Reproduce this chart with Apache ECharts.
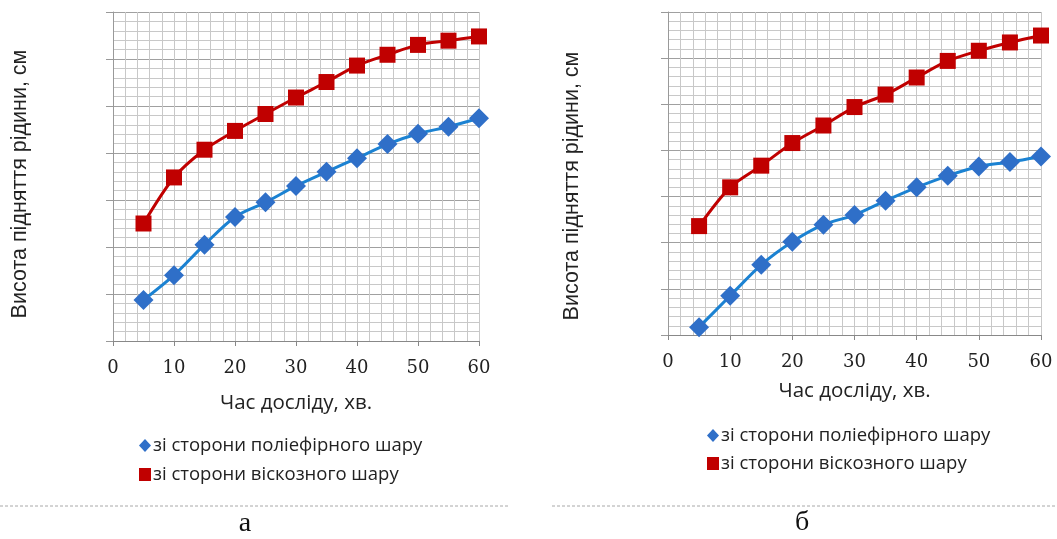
<!DOCTYPE html>
<html>
<head>
<meta charset="utf-8">
<script src="https://cdn.jsdelivr.net/npm/echarts@6/dist/echarts.min.js"></script>
<style>
  html, body { margin: 0; padding: 0; background: #fff; }
  #chart { width: 1057px; height: 539px; }
</style>
</head>
<body>
<div id="chart"></div>
<script>
// час досліду, хв.
var times = [5, 10, 15, 20, 25, 30, 35, 40, 45, 50, 55, 60];
// графік а
var polyA = [0.87, 1.40, 2.05, 2.64, 2.95, 3.30, 3.60, 3.89, 4.19, 4.41, 4.56, 4.74];
var viscA = [2.50, 3.48, 4.07, 4.47, 4.83, 5.18, 5.51, 5.86, 6.09, 6.30, 6.39, 6.48];
// графік б
var polyB = [0.17, 0.85, 1.52, 2.02, 2.39, 2.60, 2.91, 3.20, 3.45, 3.65, 3.75, 3.87];
var viscB = [2.36, 3.20, 3.67, 4.16, 4.54, 4.94, 5.21, 5.58, 5.94, 6.16, 6.34, 6.49];

var namePoly = 'зі сторони поліефірного шару';
var nameVisc = 'зі сторони віскозного шару';
var xTitle = 'Час досліду, хв.';
var yTitle = 'Висота підняття рідини, см';

var sansFont = '"Open Sans", sans-serif';
var blueLine = '#1b82d2', blueMark = '#2f6fc8', red = '#c00000';

function pairs(ys) {
	return times.map(function(t, i) { return [t, ys[i]]; });
}

function xAxisOf(idx, gap) {
	return {
		gridIndex: idx, type: 'value', min: 0, max: 60, interval: 10,
		name: xTitle, nameLocation: 'middle', nameGap: gap,
		nameTextStyle: { fontFamily: sansFont, fontSize: 20.5, color: '#222' },
		axisLine: { lineStyle: { color: '#888', width: 1 } },
		axisTick: { show: true, length: 5, lineStyle: { color: '#888' } },
		axisLabel: { margin: 18, fontFamily: '"DejaVu Serif", serif', fontSize: 18, color: '#222' },
		splitLine: { show: true, lineStyle: { color: '#c8c8c8', width: 1 } },
		minorTick: { show: false, splitNumber: 5 },
		minorSplitLine: { show: true, lineStyle: { color: '#c8c8c8', width: 1 } }
	};
}

function yAxisOf(idx) {
	return {
		gridIndex: idx, type: 'value', min: 0, max: 7, interval: 1,
		axisLine: { show: true, lineStyle: { color: '#999', width: 1 } },
		axisTick: { show: true, length: 7, lineStyle: { color: '#999' } },
		axisLabel: { show: false },
		splitLine: { show: true, lineStyle: { color: '#a0a0a0', width: 1 } },
		minorTick: { show: false, splitNumber: 5 },
		minorSplitLine: { show: true, lineStyle: { color: '#c8c8c8', width: 1 } }
	};
}

function lineSeries(name, idx, data, isPoly) {
	return {
		name: name, type: 'line', xAxisIndex: idx, yAxisIndex: idx,
		data: pairs(data), smooth: 0.3,
		symbol: isPoly ? 'diamond' : 'rect',
		symbolSize: isPoly ? 20 : 16,
		lineStyle: { color: isPoly ? blueLine : red, width: 3 },
		itemStyle: { color: isPoly ? blueMark : red },
		z: isPoly ? 3 : 2
	};
}

function legendOf(left, top, gap) {
	return {
		orient: 'vertical', left: left, top: top, itemGap: gap,
		itemWidth: 12, itemHeight: 13,
		textStyle: { fontFamily: sansFont, fontSize: 18.5, color: '#222', padding: [0, 0, 0, -3] },
		data: [
			{ name: namePoly, icon: 'diamond', itemStyle: { color: blueMark } },
			{ name: nameVisc, icon: 'rect', itemStyle: { color: red } }
		]
	};
}

var myChart = echarts.init(document.getElementById('chart'));
var option = {
	animation: false,
	grid: [
		{ left: 113, top: 12, width: 366, height: 329 },
		{ left: 668, top: 12, width: 373, height: 323 }
	],
	xAxis: [xAxisOf(0, 52), xAxisOf(1, 46)],
	yAxis: [yAxisOf(0), yAxisOf(1)],
	legend: [legendOf(134, 431, 10), legendOf(702, 421, 9)],
	series: [
		lineSeries(namePoly, 0, polyA, true),
		lineSeries(nameVisc, 0, viscA, false),
		lineSeries(namePoly, 1, polyB, true),
		lineSeries(nameVisc, 1, viscB, false)
	],
	graphic: [
		{ type: 'text', x: 20, y: 184, rotation: Math.PI / 2,
			style: { text: yTitle, fontFamily: '"Liberation Sans", Arial, sans-serif', fontSize: 21.5, fill: '#222', align: 'center', verticalAlign: 'middle' } },
		{ type: 'text', x: 572, y: 186, rotation: Math.PI / 2,
			style: { text: yTitle, fontFamily: '"Liberation Sans", Arial, sans-serif', fontSize: 21.5, fill: '#222', align: 'center', verticalAlign: 'middle' } },
		{ type: 'line', shape: { x1: 0, y1: 506, x2: 508, y2: 506 },
			style: { stroke: '#a8a8a8', lineWidth: 1, lineDash: [3, 2] } },
		{ type: 'line', shape: { x1: 552, y1: 506, x2: 1057, y2: 506 },
			style: { stroke: '#a8a8a8', lineWidth: 1, lineDash: [3, 2] } },
		{ type: 'text', x: 245, y: 524,
			style: { text: 'а', fontFamily: '"Liberation Serif", serif', fontSize: 28, fill: '#111', align: 'center', verticalAlign: 'middle' } },
		{ type: 'text', x: 802, y: 523,
			style: { text: 'б', fontFamily: '"Liberation Serif", serif', fontSize: 28, fill: '#111', align: 'center', verticalAlign: 'middle' } }
	]
};
myChart.setOption(option);
window.onresize = function() {
	myChart.resize();
};
</script>
</body>
</html>
